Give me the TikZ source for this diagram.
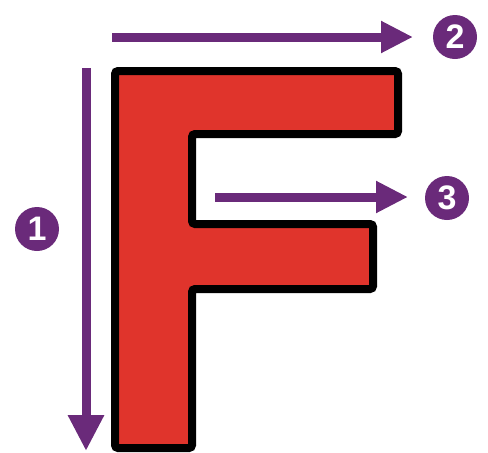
\documentclass[tikz,border=0pt]{standalone}
\usepackage{fontspec}
\setsansfont{Liberation Sans}
\usepackage{xcolor}
\usepackage{tikz}
\usetikzlibrary{arrows.meta,positioning}
\definecolor{plum}{HTML}{6A2A7A}
\definecolor{letter}{HTML}{E0342C}

\begin{document}
\begin{tikzpicture}[x=1pt,y=-1pt,
  badge/.style={circle,fill=plum,minimum size=44pt,inner sep=0pt,text=white,font=\sffamily\bfseries\fontsize{34}{34}\selectfont},
  flow/.style={draw=plum,line width=9pt,-{Triangle[length=32pt,width=30pt]}}]
\useasboundingbox (0,0) rectangle (488,453);
% the letter
\draw[fill=letter,line width=8pt,rounded corners=3pt] (115,71) -- (398,71) -- (398,134) -- (192,134) -- (192,224) -- (373,224) -- (373,289) -- (192,289) -- (192,448) -- (115,448) -- cycle;
% numbered badges
\node[badge] (badge1) at (37,229) {1};
\node[badge] (badge2) at (455,37) {2};
\node[badge] (badge3) at (447,198) {3};
% reading directions
\coordinate (down0) at (86,68); \coordinate (down1) at (86,451);
\coordinate (top0) at (112,37); \coordinate (top1) at (413,37);
\coordinate (mid0) at (215,197); \coordinate (mid1) at (408,197);
\draw[flow,-{Triangle[length=36pt,width=34pt]}] (down0) -- (down1);
\draw[flow] (top0) -- (top1);
\draw[flow] (mid0) -- (mid1);
\end{tikzpicture}
\end{document}
